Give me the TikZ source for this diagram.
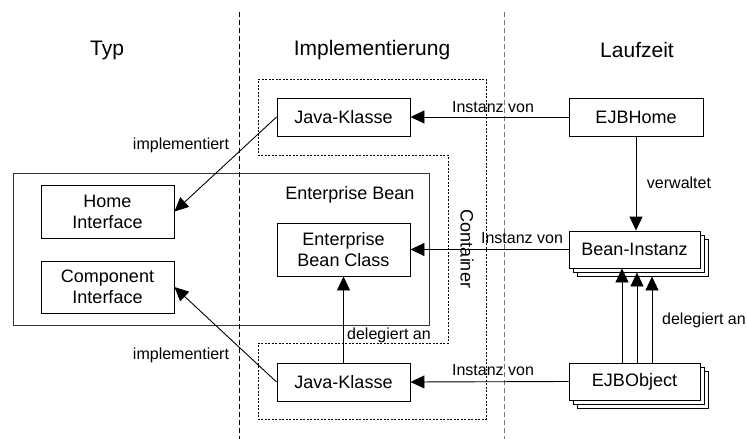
\documentclass[tikz,border=0pt]{standalone}
\usepackage{fontspec}
\setmainfont{Liberation Sans}
\usetikzlibrary{arrows.meta,shadows,calc}
\begin{document}
\begin{tikzpicture}[x=1pt,y=-1pt,
  box/.style={draw=black,line width=0.9pt,fill=white,minimum width=133pt,minimum height=38pt,
    inner sep=0pt,font=\fontsize{18}{21}\selectfont,align=center},
  stackbox/.style={box,double copy shadow={shadow xshift=4pt,shadow yshift=-4pt,draw=black,line width=0.9pt,fill=white}},
  arr/.style={line width=0.9pt,-{Triangle[length=14pt,width=13pt]}},
  lbl/.style={font=\fontsize{16}{18}\selectfont,inner sep=0pt},
  title/.style={font=\fontsize{21}{24}\selectfont,inner sep=0pt},
  sep/.style={line width=0.9pt,dash pattern=on 5pt off 3pt},
  cont/.style={line width=0.7pt,dash pattern=on 2pt off 1.5pt}]
\useasboundingbox (0,0) rectangle (747,439);

% column separators
\draw[sep,black] (239,12) -- (239,439);
\draw[sep,black!55] (504,12) -- (504,439);

% column titles
\node[title] (tTyp) at (107,50) {Typ};
\node[title] (tImpl) at (372,50) {Implementierung};
\node[title] (tLauf) at (637,50) {Laufzeit};

% container outline
\draw[cont] (258,79) -- (486,79) -- (486,419) -- (258,419) -- (258,343)
  -- (448,343) -- (448,155) -- (258,155) -- cycle;
\node[font=\fontsize{18}{21}\selectfont,rotate=-90,inner sep=0pt] (ctr) at (467,249) {Container};

% enterprise bean frame
\node[draw=black!80,line width=0.9pt,minimum width=416pt,minimum height=152pt,inner sep=0pt] (eb) at (221,249) {};
\node[font=\fontsize{18}{21}\selectfont,inner sep=0pt] (ebl) at (350,195) {Enterprise Bean};

% type column
\node[box,minimum height=53pt] (hi) at (107.5,211.5) {Home\\Interface};
\node[box,minimum height=52pt] (ci) at (107.5,287) {Component\\Interface};

% implementation column
\node[box] (jk1) at (343.5,117) {Java-Klasse};
\node[box,minimum height=53pt] (ebc) at (343.5,249.5) {Enterprise\\Bean Class};
\node[box] (jk2) at (343.5,382) {Java-Klasse};

% runtime column
\node[box,minimum width=134pt] (eh) at (636,117) {EJBHome};
\node[stackbox,minimum width=131pt,minimum height=37pt] (bi) at (634.5,249.5) {Bean-Instanz};
\node[stackbox,minimum width=131pt,minimum height=37pt] (eo) at (634.5,381.5) {EJBObject};

% connectors
\draw[arr] (jk1.west) -- (hi.east);
\draw[arr] (jk2.west) -- (ci.east);
\draw[arr] (eh.west) -- (jk1.east);
\draw[arr] (bi.west) -- (ebc.east);
\draw[arr] (eo.west) -- (jk2.east);
\draw[arr] (jk2.north) -- (ebc.south);
\draw[arr] (eh.south) -- (eh.south |- bi.north);
\draw[arr] ([xshift=-12.5pt]eo.north) -- ([xshift=-12.5pt]bi.south);
\draw[arr] ([xshift=2.5pt]eo.north) -- ([xshift=2.5pt,yshift=-4pt]bi.south);
\draw[arr] ([xshift=17.5pt]eo.north) -- ([xshift=17.5pt,yshift=-8pt]bi.south);

% connector labels
\node[lbl] (l1) at (181,145) {implementiert};
\node[lbl] (l2) at (181,355) {implementiert};
\node[lbl] (l3) at (493,107) {Instanz von};
\node[lbl] (l4) at (522,238) {Instanz von};
\node[lbl] (l5) at (493,370) {Instanz von};
\node[lbl] (l6) at (679,183) {verwaltet};
\node[lbl] (l7) at (389,335) {delegiert an};
\node[lbl] (l8) at (704,320) {delegiert an};
\end{tikzpicture}
\end{document}
